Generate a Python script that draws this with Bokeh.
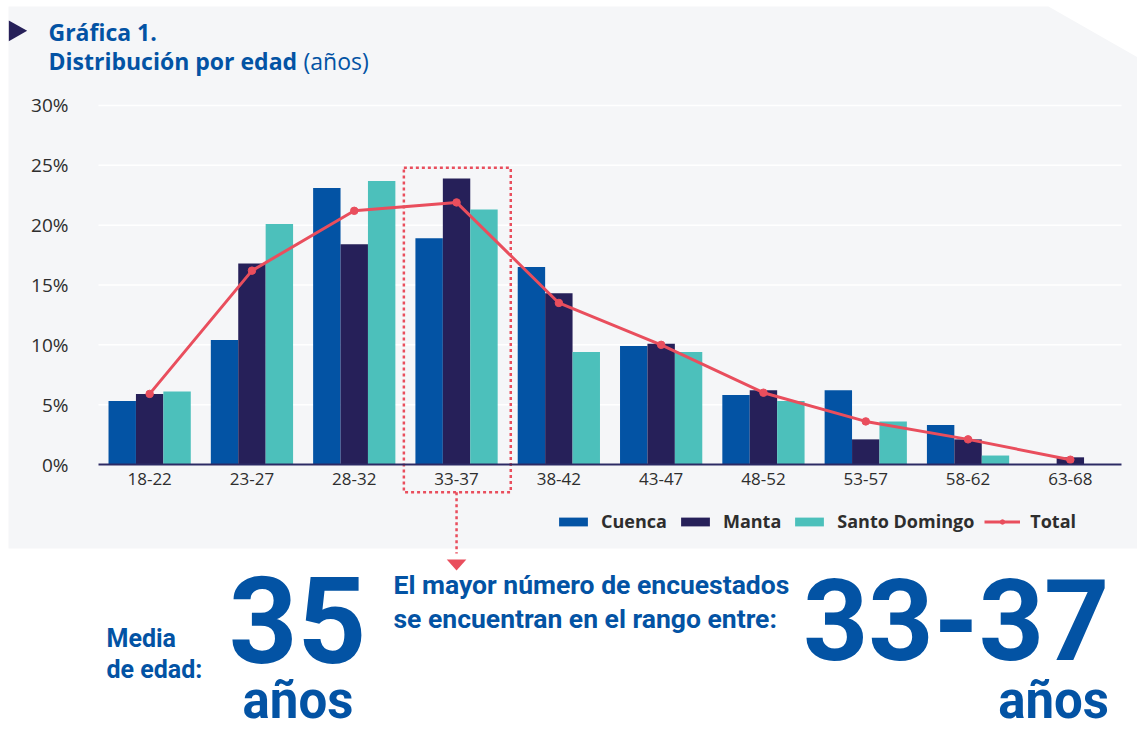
import numpy as np
from bokeh.plotting import figure
from bokeh.models import Range1d, FixedTicker, Legend, LegendItem, LinearAxis, ColumnDataSource
from bokeh.core.properties import value
from bokeh.embed import file_html
from bokeh.resources import INLINE

# ---------------- data ----------------
categories = ["18-22", "23-27", "28-32", "33-37", "38-42",
              "43-47", "48-52", "53-57", "58-62", "63-68"]
cuenca = [5.3, 10.4, 23.1, 18.9, 16.5, 9.9, 5.8, 6.2, 3.3, 0.0]
manta = [5.9, 16.8, 18.4, 23.9, 14.3, 10.1, 6.2, 2.1, 2.1, 0.6]
santo_domingo = [6.1, 20.1, 23.7, 21.3, 9.4, 9.4, 5.3, 3.6, 0.75, 0.0]
total = [5.9, 16.2, 21.2, 21.9, 13.5, 10.0, 6.0, 3.6, 2.1, 0.4]
series_names = ["Cuenca", "Manta", "Santo Domingo", "Total"]
y_ticks = [0, 5, 10, 15, 20, 25, 30]
y_tick_labels = ["0%", "5%", "10%", "15%", "20%", "25%", "30%"]
media_edad = "35"
unidad = "años"
title_1 = "Gráfica 1."
title_2 = "Distribución por edad"
title_3 = "(años)"
media_label = ["Media", "de edad:"]
rango_label = ["El mayor número de encuestados", "se encuentran en el rango entre:"]

# ---------------- style / layout constants (page pixels) ----------------
W, H = 1137, 729
GRAY = "#f5f6f8"
BLUE = "#0353a4"
NAVY = "#262059"
TEAL = "#4cc0bb"
RED = "#e94e5d"
TXT = "#2e2e2e"
FONT = "Open Sans"
BIG_FONT = "Roboto"

PLOT_L, PLOT_R = 98, 1121          # chart area, px
ZERO_Y = 464                       # px from top for 0 %
PX_PER_PCT = 11.967
n = len(categories)
CW = (PLOT_R - PLOT_L) / n         # px per category
PANEL_T, PANEL_L, PANEL_B = 6, 8, 548


def pct_at(px_y):
    return (ZERO_Y - px_y) / PX_PER_PCT


hi = int(np.argmax(total))         # highlighted range
rango_mayor = categories[hi]

p = figure(width=W, height=H, x_range=Range1d(0, W), y_range=Range1d(H, 0),
           x_axis_type=None, y_axis_type=None, output_backend="svg",
           toolbar_location=None, min_border=0, outline_line_color=None,
           background_fill_color="white", border_fill_color="white")
p.grid.visible = False
p.extra_x_ranges = {"chart": Range1d(-PLOT_L / CW, (W - PLOT_L) / CW)}
p.extra_y_ranges = {"pct": Range1d(pct_at(H), pct_at(0))}

# grey panel with cut corner
p.patch(x=[PANEL_L, 1048, W, W, PANEL_L], y=[PANEL_T, PANEL_T, 56.7, PANEL_B, PANEL_B],
        color=GRAY, line_color=None)

# header
p.patch(x=[8.3, 8.3, 26.7], y=[20, 40.7, 30.3], color=NAVY, line_color=None)
p.text(x=[48, 48], y=[31.2, 60.1], text=[title_1, title_2], text_font=value(FONT),
       text_font_size="23px", text_font_style="bold", text_color=BLUE,
       text_baseline="alphabetic", text_align="left")
p.text(x=[303], y=[60.1], text=[title_3], text_font=value(FONT),
       text_font_size="23px", text_font_style="normal", text_color=BLUE,
       text_baseline="alphabetic", text_align="left")

# chart
xc = np.arange(n) + 0.5
bw = 0.268
src = ColumnDataSource(dict(x=xc, xl=xc - bw, xr=xc + bw, cuenca=cuenca, manta=manta,
                            sd=santo_domingo, total=total))
kw = dict(x_range_name="chart", y_range_name="pct", source=src)

p.segment(x0=[0] * len(y_ticks), x1=[n] * len(y_ticks), y0=y_ticks, y1=y_ticks,
          x_range_name="chart", y_range_name="pct", line_color="white", line_width=1.5)

r1 = p.vbar(x="xl", top="cuenca", width=bw, fill_color=BLUE, line_color=None, **kw)
r2 = p.vbar(x="x", top="manta", width=bw, fill_color=NAVY, line_color=None, **kw)
r3 = p.vbar(x="xr", top="sd", width=bw, fill_color=TEAL, line_color=None, **kw)
r4 = p.line(x="x", y="total", line_color=RED, line_width=3, **kw)
r5 = p.scatter(x="x", y="total", marker="circle", size=7.5, fill_color=RED, line_color=RED, **kw)

# highlight box around the largest range + pointer
box_top, box_bot = pct_at(167.3), pct_at(491.7)
p.line(x=[hi - 0.015, hi + 1.03, hi + 1.03, hi - 0.015, hi - 0.015],
       y=[box_top, box_top, box_bot, box_bot, box_top],
       x_range_name="chart", y_range_name="pct",
       line_color=RED, line_width=2.5, line_dash="3 3")
p.line(x=[hi + 0.5, hi + 0.5], y=[box_bot, pct_at(553)],
       x_range_name="chart", y_range_name="pct",
       line_color=RED, line_width=2.5, line_dash="3 3")
aw = 9.8 / CW
p.patch(x=[hi + 0.5 - aw, hi + 0.5 + aw, hi + 0.5], y=[pct_at(559), pct_at(559), pct_at(570)],
        x_range_name="chart", y_range_name="pct", color=RED, line_color=None)

# axes
yax = LinearAxis(y_range_name="pct", fixed_location=PLOT_L,
                 ticker=FixedTicker(ticks=y_ticks),
                 major_label_overrides=dict(zip(y_ticks, y_tick_labels)))
yax.axis_line_color = None
yax.major_tick_line_color = None
yax.minor_tick_line_color = None
yax.major_label_standoff = 24
yax.major_label_text_font = FONT
yax.major_label_text_font_size = "19px"
yax.major_label_text_color = TXT
p.add_layout(yax, "left")

xax = LinearAxis(x_range_name="chart", y_range_name="pct", fixed_location=0,
                 bounds=(0, n), ticker=FixedTicker(ticks=list(xc)),
                 major_label_overrides={float(x): c for x, c in zip(xc, categories)})
xax.axis_line_color = "#2c2a64"
xax.axis_line_width = 2
xax.major_tick_line_color = None
xax.minor_tick_line_color = None
xax.major_label_standoff = 2
xax.major_label_text_font = FONT
xax.major_label_text_font_size = "17px"
xax.major_label_text_color = TXT
p.add_layout(xax, "below")

legend = Legend(items=[LegendItem(label=series_names[0], renderers=[r1]),
                       LegendItem(label=series_names[1], renderers=[r2]),
                       LegendItem(label=series_names[2], renderers=[r3]),
                       LegendItem(label=series_names[3], renderers=[r4, r5])],
                orientation="horizontal", location=(555, 196),
                background_fill_alpha=0, border_line_color=None,
                padding=0, margin=0, spacing=10, label_standoff=10,
                glyph_width=36, glyph_height=11, label_height=11,
                label_text_font=FONT, label_text_font_size="18px",
                label_text_font_style="bold", label_text_color=TXT)
p.add_layout(legend)

# bottom summary texts
p.text(x=[106, 106], y=[638.3, 669.4], text=media_label, text_font=value(BIG_FONT),
       text_font_size="25px", text_font_style="bold", text_color=BLUE,
       text_baseline="alphabetic", text_align="left")
p.text(x=[297], y=[619.2], text=[media_edad], text_font=value(BIG_FONT),
       text_font_size="120px", text_font_style="bold", text_color=BLUE,
       text_baseline="alphabetic", text_align="center")
p.text(x=[297.5], y=[700], text=[unidad], text_font=value(BIG_FONT),
       text_font_size="51px", text_font_style="bold", text_color=BLUE,
       text_baseline="alphabetic", text_align="center")
p.text(x=[393, 393], y=[584.1, 618.1], text=rango_label, text_font=value(BIG_FONT),
       text_font_size="26.5px", text_font_style="bold", text_color=BLUE,
       text_baseline="alphabetic", text_align="left")
p.text(x=[1109], y=[619.2], text=[rango_mayor], text_font=value(BIG_FONT),
       text_font_size="114px", text_font_style="bold", text_color=BLUE,
       text_baseline="alphabetic", text_align="right")
p.text(x=[1108.5], y=[700], text=[unidad], text_font=value(BIG_FONT),
       text_font_size="51px", text_font_style="bold", text_color=BLUE,
       text_baseline="alphabetic", text_align="right")

open("out.html", "w").write(file_html(p, INLINE))
